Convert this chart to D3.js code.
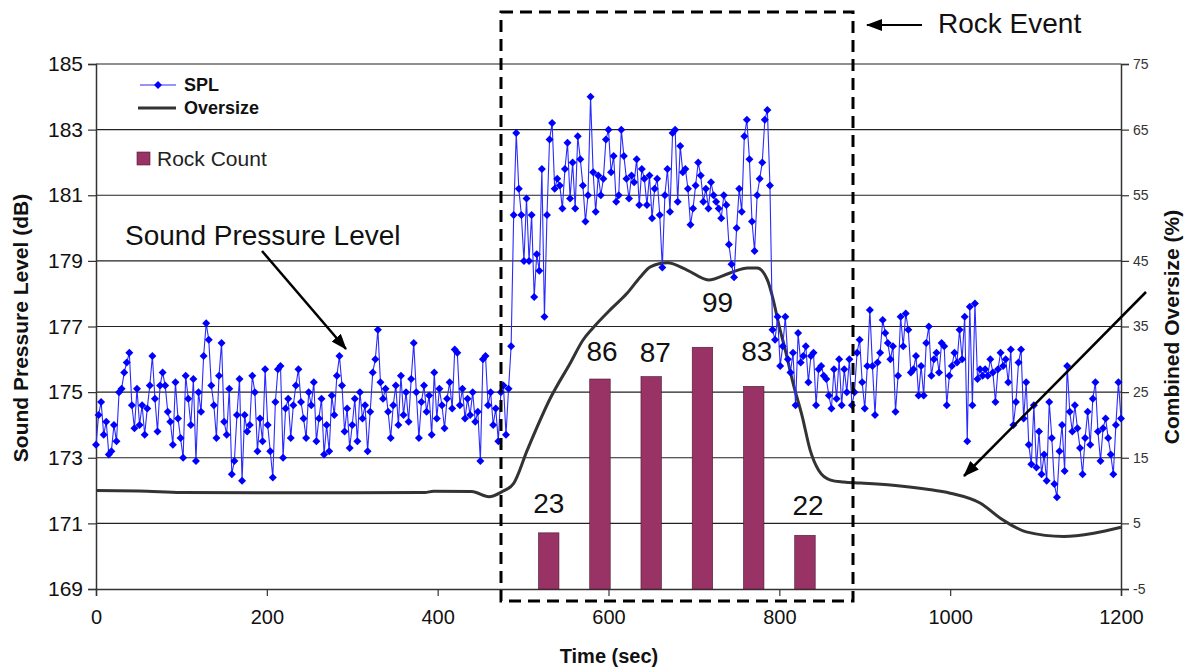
<!DOCTYPE html>
<html><head><meta charset="utf-8">
<script src="https://cdn.jsdelivr.net/npm/d3@7"></script>
<style>
html,body{margin:0;padding:0;background:#fff;}
svg{display:block;font-family:"Liberation Sans",Arial,sans-serif;}
</style></head><body>
<svg id="c" width="1189" height="671"></svg>
<script>
// ---------- DATA ----------
const splStep = 3; // seconds between SPL samples, starting at t = 0
const splValues = [
173.4,174.3,174.7,173.7,174.1,173.1,173.2,174.0,173.5,175.0,175.1,175.6,175.9,176.2,174.6,173.9,175.1,174.0,174.6,173.7,
174.5,175.2,176.1,174.8,173.8,175.2,175.6,175.2,174.4,174.1,173.4,175.3,174.2,173.6,173.0,175.5,174.8,174.0,175.4,172.9,
175.0,174.4,176.1,177.1,176.6,175.2,174.6,173.6,175.5,176.5,174.1,173.7,175.1,172.5,172.9,174.3,175.4,172.3,174.3,173.8,
174.0,175.5,175.0,173.2,174.2,173.5,175.7,174.0,173.2,172.4,174.7,175.7,175.8,173.0,174.5,174.8,173.6,174.6,175.2,175.7,
174.7,174.2,173.6,175.0,174.6,175.3,173.5,174.2,174.8,173.1,174.0,173.2,174.9,174.3,175.5,176.1,175.2,173.8,174.5,173.3,
174.0,174.8,173.5,175.0,174.2,174.6,173.2,174.4,175.6,176.0,176.9,175.3,174.8,175.1,174.4,173.6,174.6,175.2,174.0,175.5,
174.3,175.0,174.1,175.4,176.5,175.0,173.6,174.7,175.2,174.4,174.9,173.7,175.6,174.2,175.1,174.6,173.9,174.8,175.3,174.5,
176.3,176.2,174.6,175.1,174.2,174.8,174.3,175.0,174.1,174.4,172.9,176.0,176.1,174.6,175.0,174.0,174.5,173.5,175.0,175.2,
173.7,175.1,176.4,180.4,182.9,181.2,180.4,179.0,180.9,179.0,180.4,177.9,179.2,178.7,181.8,177.3,180.4,182.7,183.2,181.2,
181.5,181.3,180.6,181.8,182.6,180.9,182.0,180.6,182.8,182.1,181.3,180.2,181.0,184.0,181.7,180.5,181.6,181.0,181.5,182.7,
183.0,181.7,182.2,180.8,181.0,183.0,182.2,181.5,180.9,181.6,181.4,182.1,180.7,181.8,181.5,180.7,181.6,180.3,181.2,181.5,
180.4,178.8,181.0,181.8,180.5,182.9,183.0,180.8,182.5,181.7,181.8,181.2,180.1,180.6,181.3,182.0,181.6,180.8,181.2,180.6,
181.4,181.0,180.8,180.6,180.3,181.0,180.7,179.5,178.9,178.5,180.0,181.2,180.5,182.8,183.3,182.1,180.2,179.3,181.0,181.5,
182.0,183.3,183.6,181.3,176.9,176.6,177.3,175.8,176.4,177.3,176.0,175.6,176.2,174.6,176.8,175.9,176.1,176.4,175.3,176.1,
176.2,174.6,175.7,175.8,175.5,175.4,174.9,174.5,175.7,174.8,176.0,174.6,175.7,175.0,176.0,174.6,175.0,176.2,176.6,175.3,
174.5,175.8,177.5,175.8,174.3,175.9,176.2,177.2,176.8,176.5,176.0,176.4,174.4,175.5,177.3,176.4,177.4,176.9,175.6,175.7,
176.1,174.9,175.8,174.9,176.5,177.0,175.5,176.0,176.2,175.6,176.5,176.4,174.6,175.5,175.8,176.2,175.9,176.9,176.0,177.3,
173.5,177.6,174.6,177.7,175.4,175.7,175.5,175.7,175.5,176.0,175.6,174.7,175.7,176.2,175.8,176.0,175.3,176.3,174.0,174.7,
175.9,176.3,174.2,175.3,173.4,172.8,174.6,172.7,173.8,172.5,173.1,172.3,174.7,173.6,172.2,171.8,173.2,174.0,172.6,175.8,
174.4,173.8,174.6,173.9,173.3,172.5,173.6,174.4,173.4,174.8,175.3,173.8,172.9,173.9,174.2,173.6,173.1,172.5,174.0,175.3,174.2
];
const oversizeTimes = [0,50,100,200,300,385,395,440,460,475,489,505,532,556,570,582,604,622,637,649,669,692,717,743,763,774,786,793,799,807,816,827,836,846,860,875,895,933,973,1000,1035,1062,1089,1133,1168,1200];
const oversizeValues = [10.0,9.95,9.7,9.65,9.65,9.7,9.9,9.85,9.05,9.8,11.1,16.2,24.1,29.6,32.9,34.8,37.8,40.1,42.5,44.1,44.7,43.6,42.1,43.2,43.9,43.9,42.1,39.0,35.5,31.4,26.4,21.2,16.2,13.1,11.6,11.3,11.15,10.8,10.2,9.6,8.1,5.5,3.7,3.0,3.5,4.4];
const rockTimes = [530,590,650,710,770,830];
const rockCounts = [23,86,87,99,83,22];
const xTicks = [0,200,400,600,800,1000,1200];
const yLeftTicks = [169,171,173,175,177,179,181,183,185];
const yRightTicks = [-5,5,15,25,35,45,55,65,75];

// ---------- LAYOUT ----------
const svg = d3.select("#c");
const L = 96, R = 1121, T = 64, B = 589;
const x = d3.scaleLinear().domain([0,1200]).range([L,R]);
const yL = d3.scaleLinear().domain([169,185]).range([B,T]);
const yR = d3.scaleLinear().domain([-5,75]).range([B,T]);
const yC = d3.scaleLinear().domain([0,215]).range([B,T]);
const font = '"Liberation Sans",Arial,sans-serif';
const plain = d => String(d);

// gridlines
svg.append("g").selectAll("line").data(yLeftTicks.slice(1)).join("line")
  .attr("x1",L).attr("x2",R).attr("y1",d=>yL(d)).attr("y2",d=>yL(d))
  .attr("stroke","#222").attr("stroke-width",1.2);

// axes
const axL = svg.append("g").attr("transform",`translate(${L},0)`)
  .call(d3.axisLeft(yL).tickValues(yLeftTicks).tickSize(8).tickPadding(5).tickFormat(plain));
const axR = svg.append("g").attr("transform",`translate(${R},0)`)
  .call(d3.axisRight(yR).tickValues(yRightTicks).tickSize(8).tickPadding(4).tickFormat(plain));
const axB = svg.append("g").attr("transform",`translate(0,${B})`)
  .call(d3.axisBottom(x).tickValues(xTicks).tickSize(7).tickPadding(14).tickFormat(plain));
[axL,axR,axB].forEach(a=>{
  a.select(".domain").attr("stroke","#333").attr("stroke-width",1.5);
  a.selectAll(".tick line").attr("stroke","#333").attr("stroke-width",1.2);
  a.selectAll(".tick text").attr("fill","#111").attr("font-family",font);
});
axL.selectAll(".tick text").attr("font-size",21);
axB.selectAll(".tick text").attr("font-size",20);
axR.selectAll(".tick text").attr("font-size",14).attr("fill","#333");

// axis titles
svg.append("text").attr("transform","translate(28,328) rotate(-90)")
  .attr("text-anchor","middle").attr("font-weight","bold").attr("font-size",21)
  .attr("fill","#111").text("Sound Pressure Level (dB)");
svg.append("text").attr("transform","translate(1179,327) rotate(-90)")
  .attr("text-anchor","middle").attr("font-weight","bold").attr("font-size",21)
  .attr("fill","#111").text("Combined Oversize (%)");
svg.append("text").attr("x",609).attr("y",663)
  .attr("text-anchor","middle").attr("font-weight","bold").attr("font-size",20)
  .attr("fill","#111").text("Time (sec)");

// bars
const barW = x(24)-x(0);
svg.append("g").selectAll("rect").data(rockTimes).join("rect")
  .attr("x",(d)=>x(d)-barW/2).attr("width",barW)
  .attr("y",(d,i)=>yC(rockCounts[i])).attr("height",(d,i)=>B-yC(rockCounts[i]))
  .attr("fill","#993366").attr("stroke","#4a1a33").attr("stroke-width",0.6);

// bar labels (manual nudges as in the original)
const nudgeX = [0,2,4,15,3,3], nudgeY = [20,18,15,35,25,20];
svg.append("g").selectAll("text").data(rockTimes).join("text")
  .attr("x",(d,i)=>x(d)+nudgeX[i]).attr("y",(d,i)=>yC(rockCounts[i])-nudgeY[i])
  .attr("text-anchor","middle").attr("font-size",28).attr("fill","#111")
  .text((d,i)=>rockCounts[i]);

// oversize line
const ovLine = d3.line().x((d,i)=>x(oversizeTimes[i])).y(d=>yR(d)).curve(d3.curveMonotoneX);
svg.append("path").datum(oversizeValues).attr("d",ovLine)
  .attr("fill","none").attr("stroke","#333").attr("stroke-width",3);

// SPL line + diamonds
const splLine = d3.line().x((d,i)=>x(i*splStep)).y(d=>yL(d));
svg.append("path").datum(splValues).attr("d",splLine)
  .attr("fill","none").attr("stroke","#2a2aff").attr("stroke-width",1.1);
const dia = r=>`M0,${-r}L${r},0L0,${r}L${-r},0Z`;
svg.append("g").selectAll("path").data(splValues).join("path")
  .attr("transform",(d,i)=>`translate(${x(i*splStep)},${yL(d)})`)
  .attr("d",dia(4)).attr("fill","#0000ff");

// dashed event box
svg.append("rect").attr("x",501).attr("y",12).attr("width",352).attr("height",589)
  .attr("fill","none").attr("stroke","#000").attr("stroke-width",3).attr("stroke-dasharray","12,7");

// arrows
const defs = svg.append("defs");
defs.append("marker").attr("id","ah").attr("viewBox","0 0 16 12").attr("refX",15).attr("refY",6)
  .attr("markerWidth",16).attr("markerHeight",12).attr("markerUnits","userSpaceOnUse")
  .attr("orient","auto").append("path").attr("d","M0,0L16,6L0,12Z").attr("fill","#000");
function arrow(x1,y1,x2,y2,w){
  svg.append("line").attr("x1",x1).attr("y1",y1).attr("x2",x2).attr("y2",y2)
    .attr("stroke","#000").attr("stroke-width",w).attr("marker-end","url(#ah)");
}
arrow(922,25,867,25,2);
arrow(262,251,346,349,2.5);
arrow(1146,292,964,476,2.5);

// annotation texts
svg.append("text").attr("x",938).attr("y",33).attr("font-size",28).attr("fill","#111").text("Rock Event");
svg.append("text").attr("x",125).attr("y",245).attr("font-size",28).attr("fill","#111").text("Sound Pressure Level");

// legend
const lg = svg.append("g");
lg.append("line").attr("x1",140).attr("x2",176).attr("y1",85).attr("y2",85).attr("stroke","#2a2aff").attr("stroke-width",1.1);
lg.append("path").attr("transform","translate(158,85)").attr("d",dia(4)).attr("fill","#0000ff");
lg.append("text").attr("x",184).attr("y",91).attr("font-size",18).attr("font-weight","bold").attr("fill","#111").text("SPL");
lg.append("line").attr("x1",138).attr("x2",176).attr("y1",108).attr("y2",108).attr("stroke","#333").attr("stroke-width",3);
lg.append("text").attr("x",184).attr("y",114).attr("font-size",18).attr("font-weight","bold").attr("fill","#111").text("Oversize");
lg.append("rect").attr("x",137).attr("y",152).attr("width",13).attr("height",13).attr("fill","#993366").attr("stroke","#4a1a33").attr("stroke-width",0.6);
lg.append("text").attr("x",157).attr("y",166).attr("font-size",21).attr("fill","#222").text("Rock Count");
</script>
</body></html>
